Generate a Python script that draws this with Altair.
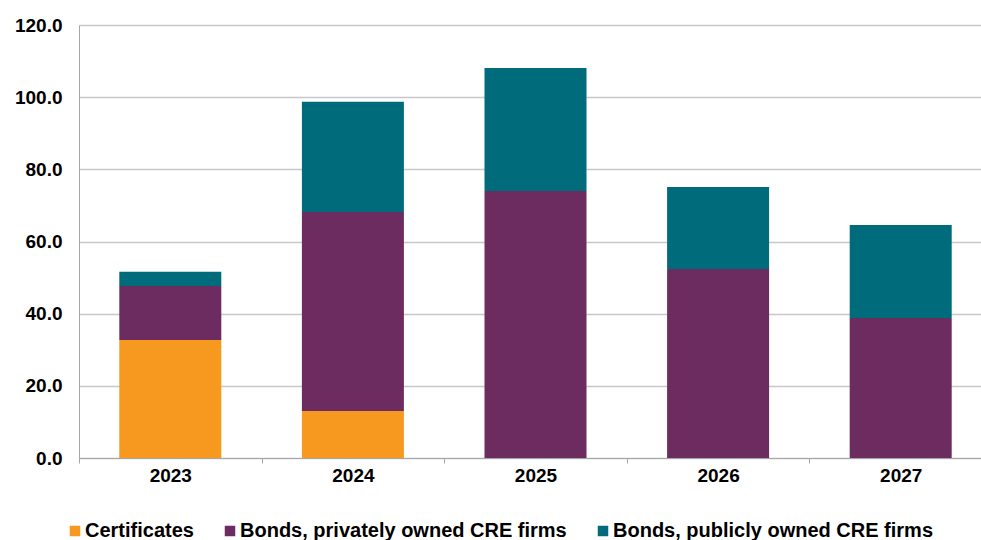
import altair as alt
import pandas as pd

years = ["2023", "2024", "2025", "2026", "2027"]
series = ["Certificates", "Bonds, privately owned CRE firms", "Bonds, publicly owned CRE firms"]
certificates = [32.7, 13.0, 0.0, 0.0, 0.0]
bonds_private = [15.0, 55.2, 74.0, 52.4, 38.8]
bonds_public = [3.9, 30.5, 34.1, 22.7, 25.8]
colors = ["#F7981F", "#6C2C5F", "#006B7A"]

rows = []
for vals, name, k in [(certificates, series[0], 0), (bonds_private, series[1], 1), (bonds_public, series[2], 2)]:
    for y, v in zip(years, vals):
        rows.append({"year": y, "series": name, "value": v, "order": k})
df = pd.DataFrame(rows)

font = "Liberation Sans"

chart = alt.Chart(df).mark_bar(size=102).encode(
    x=alt.X("year:N", title=None, sort=years,
            scale=alt.Scale(paddingInner=0, paddingOuter=0, range=[0, 913]),
            axis=alt.Axis(labelAngle=0, labelFont=font, labelFontSize=19, labelFontWeight="bold",
                          labelColor="#000000", domainColor="#A6A6A6", tickColor="#A6A6A6",
                          tickBand="extent", tickSize=5, labelPadding=3, grid=False)),
    y=alt.Y("value:Q", title=None, stack="zero",
            scale=alt.Scale(domain=[0, 120], nice=False),
            axis=alt.Axis(values=[0, 20, 40, 60, 80, 100, 120], format=".1f", labelFont=font,
                          labelFontSize=19, labelFontWeight="bold", labelColor="#000000",
                          ticks=False, labelPadding=17, domainColor="#A6A6A6",
                          gridColor="#C8C8C8", gridWidth=1.3)),
    color=alt.Color("series:N", sort=series,
                    scale=alt.Scale(domain=series, range=colors),
                    legend=alt.Legend(title=None, orient="none", direction="horizontal",
                                      legendX=-14, legendY=496, padding=0, symbolType="square",
                                      symbolSize=110, symbolStrokeWidth=0, symbolOpacity=1,
                                      labelFont=font, labelFontSize=20, labelFontWeight="bold",
                                      labelColor="#000000", labelLimit=0, columnPadding=26,
                                      labelOffset=0)),
    order=alt.Order("order:Q", sort="ascending"),
).properties(
    width=902, height=433,
    autosize=alt.AutoSizeParams(type="none"),
    padding={"left": 79, "top": 25, "right": 0, "bottom": 82},
).configure_view(stroke=None).configure(background="#FFFFFF")

chart.save("out.html", embed_options={"renderer": "svg", "actions": False})
